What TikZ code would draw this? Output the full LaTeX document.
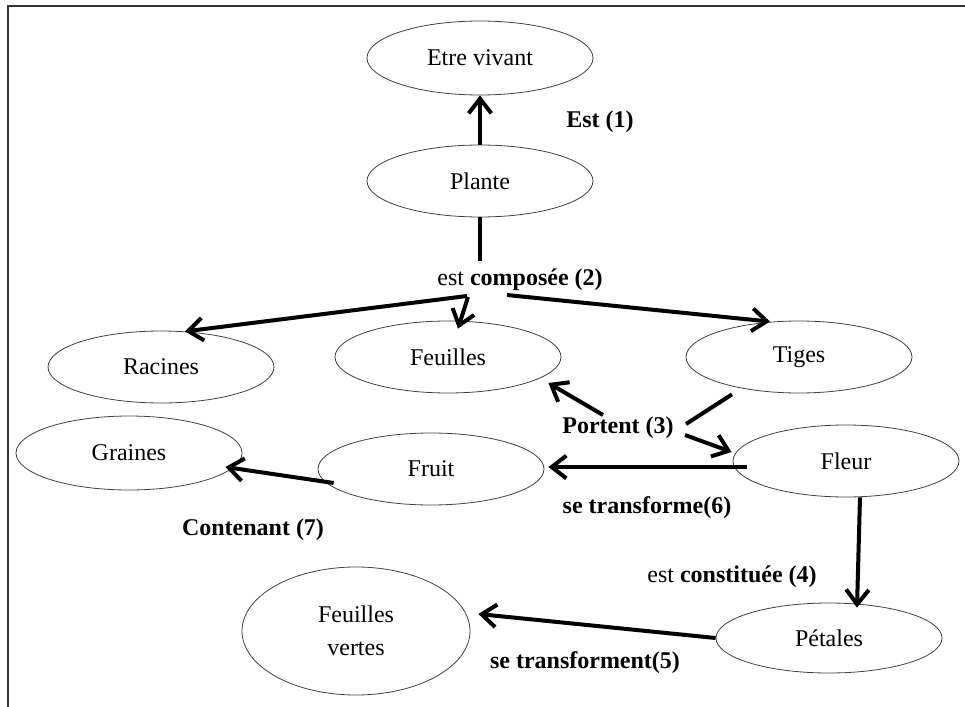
\documentclass[tikz,border=0pt]{standalone}
\usepackage{fontspec}
\setmainfont{Liberation Serif}
\usetikzlibrary{shapes.geometric,arrows.meta,calc}
\begin{document}
\begin{tikzpicture}[x=0.75pt,y=-0.75pt,
  concept/.style={ellipse,draw=black!75,line width=0.6pt,inner sep=0pt,
    minimum width=169.5pt,minimum height=54pt,
    font=\fontsize{18}{25}\selectfont,align=center},
  lbl/.style={inner sep=0pt,font=\fontsize{18}{22}\selectfont},
  link/.style={line width=3pt,line cap=butt},
  arrow/.style={link,-{Straight Barb[length=11pt,width=17pt]}},
  frame/.style={line width=1.5pt,black!80}]
\useasboundingbox (0,0) rectangle (965,707);
\draw[frame] (8,707) -- (8,6) -- (965,6);

% concepts
\node[concept,minimum height=55.5pt] (etre) at (480,58) {Etre vivant};
\node[concept] (plante) at (480,181) {Plante};
\node[concept] (racines) at (161,367) {Racines};
\node[concept] (feuilles) at (448,357) {Feuilles};
\node[concept] (tiges) at (799,357) {Tiges};
\node[concept,minimum height=55.5pt] (graines) at (129,453) {Graines};
\node[concept] (fruit) at (431,469) {Fruit};
\node[concept] (fleur) at (846,461) {Fleur};
\node[concept,minimum height=52.5pt] (petales) at (829,638) {Pétales};
\node[concept,minimum width=171pt,minimum height=96pt] (fv) at (356,631) {Feuilles\\vertes};

% link labels
\node[lbl] (l1) at (600,122) {\textbf{Est (1)}};
\node[lbl] (l2) at (520,280) {est \textbf{composée (2)}};
\node[lbl] (l3) at (618,428) {\textbf{Portent (3)}};
\node[lbl] (l4) at (732,577) {est \textbf{constituée (4)}};
\node[lbl] (l5) at (585,663) {\textbf{se transforment(5)}};
\node[lbl] (l6) at (647,508) {\textbf{se transforme(6)}};
\node[lbl] (l7) at (253,530) {\textbf{Contenant (7)}};

% free ends next to the labels
\coordinate (c2top) at (480,261);
\coordinate (c2l) at (467,296);
\coordinate (c2m) at (468,297);
\coordinate (c2r) at (507,295);
\coordinate (c3t) at (686,424);
\coordinate (c3f) at (603,415);
\coordinate (c3b) at (685,435);

% (1)
\draw[arrow] (plante) -- (etre);
% (2)
\draw[link] (plante) -- (c2top);
\draw[arrow] (c2l) -- (racines.56);
\draw[arrow] (c2m) -- ($(feuilles.north)+(10,8)$);
\draw[arrow] (c2r) -- ($(tiges.north)+(-29,1)$);
% (3)
\draw[link] ($(tiges.south)+(-67,1)$) -- (c3t);
\draw[arrow] (c3f) -- ($(feuilles.east)+(-13,26)$);
\draw[arrow] (c3b) -- ($(fleur.west)+(-1,-9)$);
% (6)
\draw[arrow] ($(fleur.west)+(14,6)$) -- ($(fruit.east)+(4,-2)$);
% (7)
\draw[arrow] ($(fruit.west)+(16,14)$) -- ($(graines.east)+(-17,14)$);
% (4)
\draw[arrow] ($(fleur.south)+(14,0)$) -- ($(petales.north)+(28,5)$);
% (5)
\draw[arrow] (petales.west) -- ($(fv.east)+(8,-17)$);
\end{tikzpicture}
\end{document}
